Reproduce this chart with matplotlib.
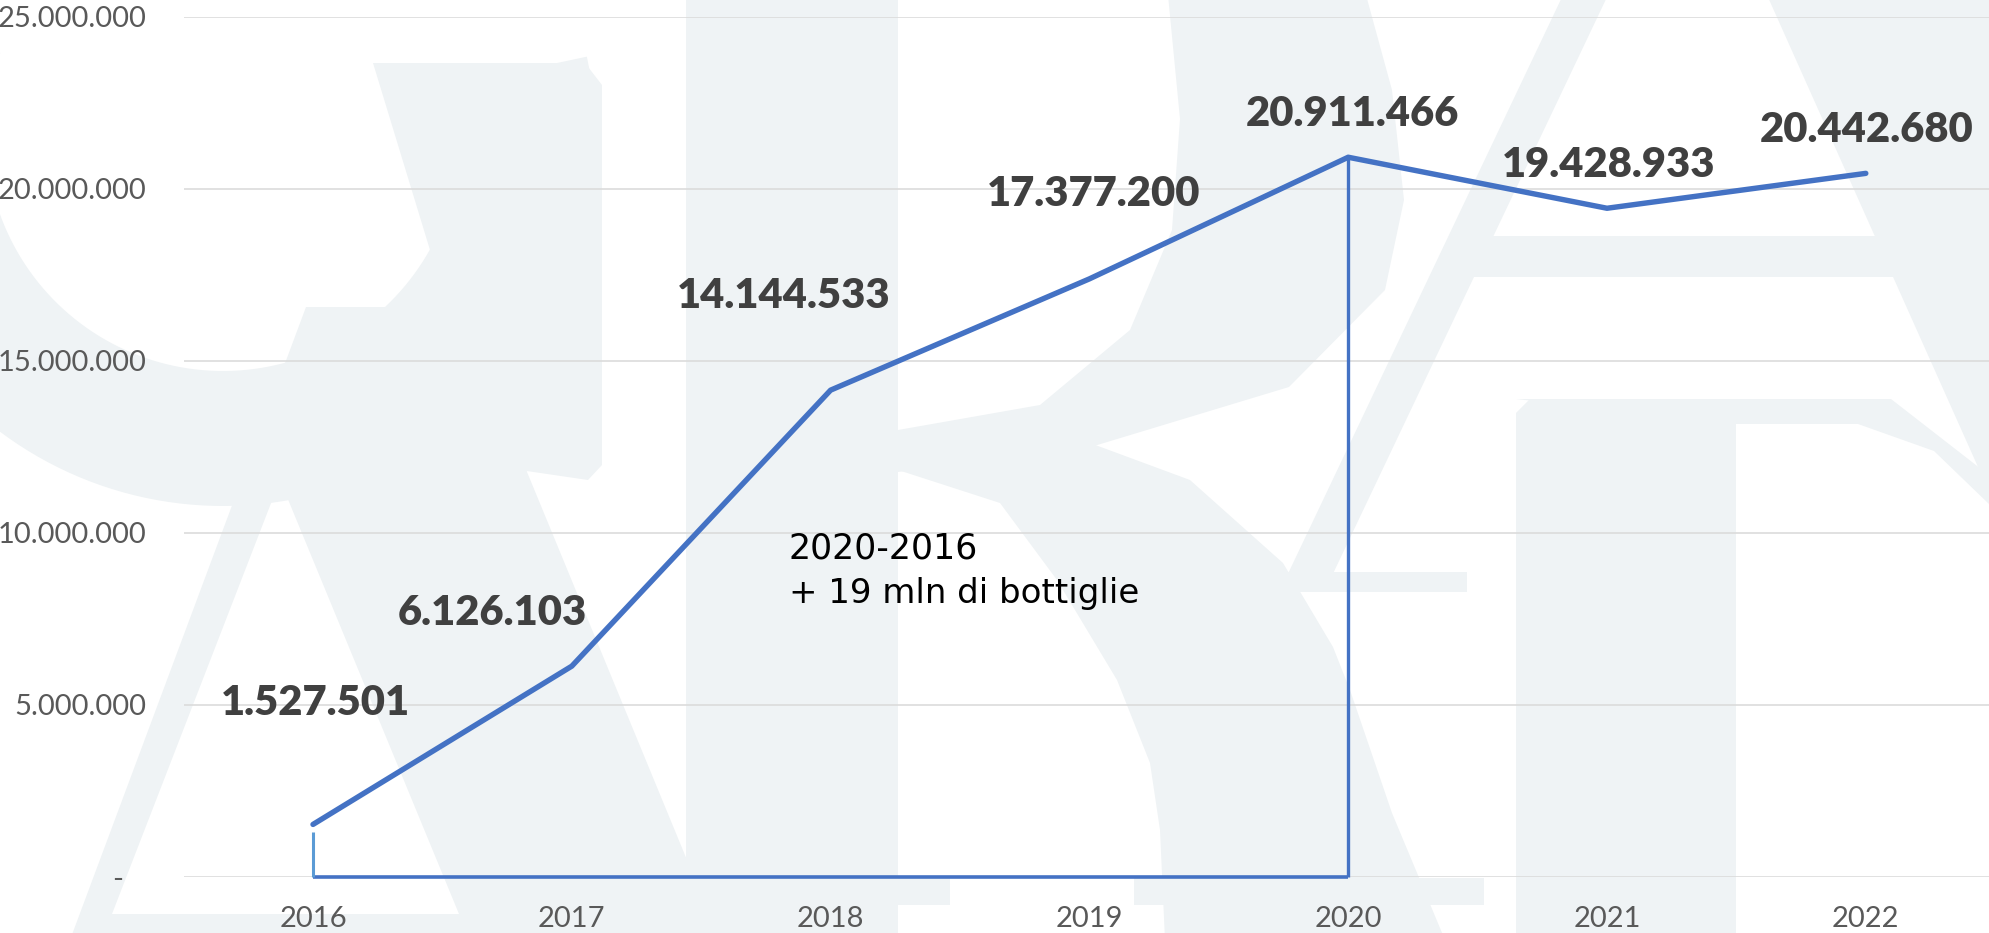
import numpy as np
import matplotlib
matplotlib.use("Agg")
import matplotlib.pyplot as plt
from matplotlib.patches import Polygon
from matplotlib.ticker import FixedLocator, FuncFormatter

# ---- data -------------------------------------------------------------
years = ["2016", "2017", "2018", "2019", "2020", "2021", "2022"]
bottles = [1527501, 6126103, 14144533, 17377200, 20911466, 19428933, 20442680]
y_ticks = [0, 5_000_000, 10_000_000, 15_000_000, 20_000_000, 25_000_000]
note_lines = ["2020-2016", "+ 19 mln di bottiglie"]
span_start, span_end = 0, 4          # 2016 -> 2020 bracket
bracket_left_top = 1_300_000

# ---- style ------------------------------------------------------------
W, H, DPI = 1989, 933, 100
BLUE = "#4472C4"
LIGHT_BLUE = "#5B9BD5"
GRID = "#D9D9D9"
TICK = "#595959"
LABEL = "#404040"
WM = "#EFF3F5"

# label baseline offsets from each point, in pixels (dx, dy up)
label_offsets = [(2, 109), (-79, 41), (-47, 82), (4, 73), (4, 31), (2, 31), (1, 31)]


def dotted(v):
    return f"{int(v):,}".replace(",", ".")


fig = plt.figure(figsize=(W / DPI, H / DPI), dpi=DPI, facecolor="white")

# ---- faint logo watermark in the background ---------------------------
bg = fig.add_axes([0, 0, 1, 1], zorder=0)
bg.set_xlim(0, W)
bg.set_ylim(H, 0)
bg.axis("off")


def shape(pts, color=WM):
    bg.add_patch(Polygon(pts, closed=True, facecolor=color, edgecolor="none"))


# left "A"
shape([(70, 940), (306, 307), (459, 307), (720, 940)])
shape([(112, 914), (280, 480), (459, 914)], color="white")
# round stroke at the top left
th = np.radians(np.linspace(-12, 200, 120))
cx, cy, r1, r2 = 223, 134, 237, 372
outer = np.c_[cx + r2 * np.cos(th), cy + r2 * np.sin(th)]
inner = np.c_[cx + r1 * np.cos(th), cy + r1 * np.sin(th)][::-1]
shape(np.vstack([outer, inner]))
shape([(373, 63), (585, 63), (602, 85), (602, 465), (588, 480), (520, 470),
       (433, 429), (430, 250)])
# central "R"
shape([(686, -5), (898, -5), (898, 940), (686, 940)])
shape([(898, -5), (1366, -5), (1392, 90), (1404, 200), (1385, 290), (1289, 387),
       (1094, 446), (898, 472), (898, 430), (1040, 405), (1130, 330),
       (1172, 230), (1180, 119), (1168, -5)])
shape([(898, 470), (1000, 503), (1057, 580), (1117, 680), (1150, 763),
       (1160, 830), (1165, 940), (1445, 940), (1420, 880), (1392, 813),
       (1350, 690), (1333, 647), (1283, 563), (1190, 480), (1090, 443)])
shape([(629, 878), (950, 878), (950, 905), (629, 905)])
shape([(1134, 878), (1484, 878), (1484, 905), (1134, 905)])
# right "A"
shape([(1563, -5), (1608, -5), (1330, 580), (1285, 580)])
shape([(1283, 572), (1467, 572), (1467, 592), (1283, 592)])
shape([(1767, -5), (1995, -5), (1995, 505)])
shape([(1470, 236), (1880, 236), (1898, 277), (1455, 277)])
# right "P"
shape([(1530, 399), (1736, 399), (1736, 940), (1516, 940), (1516, 413)])
shape([(1516, 399), (1891, 399), (1990, 476), (1990, 505), (1934, 451),
       (1858, 424), (1736, 424)])

# ---- chart ------------------------------------------------------------
left_px, right_px = 183.6, 1995.2
top_px, bottom_px = 16.5, 877.0
ax = fig.add_axes([left_px / W, (H - bottom_px) / H,
                   (right_px - left_px) / W, (bottom_px - top_px) / H], zorder=1)
ax.patch.set_alpha(0)

x = np.arange(len(years))
ax.set_xlim(-0.5, len(years) - 0.5)
ax.set_ylim(0, 25_000_000)

ax.yaxis.set_major_locator(FixedLocator(y_ticks))
ax.yaxis.set_major_formatter(FuncFormatter(lambda v, p: "-   " if v == 0 else dotted(v)))
ax.set_xticks(x)
ax.set_xticklabels(years)

for s in ax.spines.values():
    s.set_visible(False)
ax.grid(axis="y", color=GRID, lw=1.1, zorder=0)
ax.set_axisbelow(True)
ax.tick_params(axis="y", length=0, pad=27, labelsize=21, labelcolor=TICK)
ax.tick_params(axis="x", length=0, pad=21, labelsize=21, labelcolor=TICK)
for lab in ax.get_xticklabels() + ax.get_yticklabels():
    lab.set_fontfamily("Lato")

# 2016-2020 bracket
ax.plot([span_start, span_end], [0, 0], color=BLUE, lw=2.6,
        solid_capstyle="butt", zorder=2, clip_on=False)
ax.plot([span_end, span_end], [0, bottles[span_end]], color=BLUE, lw=2.4,
        solid_capstyle="butt", zorder=2, clip_on=False)
ax.plot([span_start, span_start], [0, bracket_left_top], color=LIGHT_BLUE, lw=2.2,
        solid_capstyle="butt", zorder=2, clip_on=False)

# main series
ax.plot(x, bottles, color=BLUE, lw=3.9, solid_capstyle="round",
        solid_joinstyle="round", zorder=3, clip_on=False)

for xi, v, (dx, dy) in zip(x, bottles, label_offsets):
    ax.annotate(dotted(v), (xi, v), xytext=(dx, dy), textcoords="offset pixels",
                ha="center", va="baseline", fontsize=30, fontweight="heavy",
                fontfamily="Lato", color=LABEL, zorder=4)

ax.text(1.839, 9_239_000, note_lines[0], ha="left", va="baseline",
        fontsize=25, fontfamily="DejaVu Sans", color="black", zorder=4)
ax.text(1.839, 7_960_000, note_lines[1], ha="left", va="baseline",
        fontsize=24.5, fontfamily="DejaVu Sans", color="black", zorder=4)

fig.savefig("out.png", dpi=DPI, facecolor="white")
